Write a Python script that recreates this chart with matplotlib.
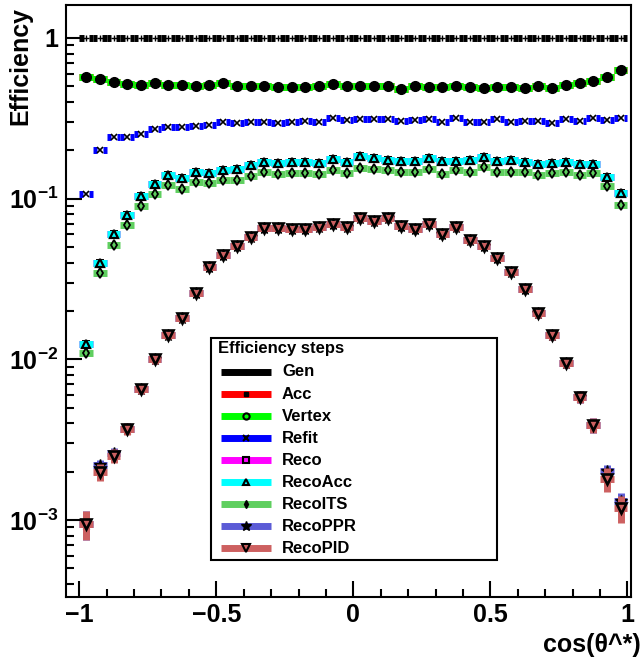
import numpy as np
import matplotlib
matplotlib.use('Agg')
import matplotlib.pyplot as plt
from matplotlib.lines import Line2D
from matplotlib.patches import Rectangle
from matplotlib.ticker import FixedLocator, FuncFormatter, LogLocator, MultipleLocator, NullFormatter

plt.rcParams['font.family'] = ['Liberation Sans', 'DejaVu Sans']
plt.rcParams['font.weight'] = 'bold'
plt.rcParams['mathtext.fontset'] = 'custom'
plt.rcParams['mathtext.rm'] = 'Liberation Sans:bold'
plt.rcParams['mathtext.it'] = 'Liberation Sans:bold'
plt.rcParams['mathtext.bf'] = 'Liberation Sans:bold'

# 40 bins in cos(theta*)
bin_lo = -1.0
bin_hi = 1.0
n_bins = 40

gen = [1.0] * 40
acc = [0.575, 0.554, 0.535, 0.516, 0.508, 0.525, 0.513, 0.511, 0.503, 0.508,
       0.523, 0.501, 0.505, 0.505, 0.496, 0.498, 0.496, 0.503, 0.516, 0.500,
       0.503, 0.501, 0.501, 0.484, 0.501, 0.496, 0.498, 0.501, 0.494, 0.491,
       0.498, 0.498, 0.491, 0.503, 0.491, 0.508, 0.525, 0.541, 0.570, 0.633]
vertex = [0.575, 0.554, 0.535, 0.516, 0.508, 0.525, 0.513, 0.511, 0.503, 0.508,
          0.523, 0.501, 0.505, 0.505, 0.496, 0.498, 0.496, 0.503, 0.516, 0.500,
          0.503, 0.501, 0.501, 0.484, 0.501, 0.496, 0.498, 0.501, 0.494, 0.491,
          0.498, 0.498, 0.491, 0.503, 0.491, 0.508, 0.525, 0.541, 0.570, 0.633]
refit = [0.107, 0.2015, 0.2417, 0.2417, 0.2533, 0.271, 0.279, 0.281, 0.2825, 0.288,
         0.299, 0.295, 0.299, 0.302, 0.296, 0.301, 0.305, 0.302, 0.319, 0.308,
         0.314, 0.313, 0.311, 0.305, 0.308, 0.314, 0.301, 0.317, 0.302, 0.301,
         0.315, 0.302, 0.304, 0.306, 0.294, 0.314, 0.306, 0.317, 0.310, 0.319]
reco = [0.0125, 0.0399, 0.0606, 0.0796, 0.1033, 0.124, 0.1395, 0.1345, 0.147, 0.145,
        0.1514, 0.1536, 0.163, 0.170, 0.1666, 0.170, 0.170, 0.1666, 0.177, 0.170,
        0.183, 0.178, 0.175, 0.1715, 0.172, 0.180, 0.1715, 0.1715, 0.1747, 0.1824,
        0.172, 0.1729, 0.170, 0.164, 0.1666, 0.168, 0.1648, 0.1648, 0.1356, 0.1085]
reco_acc = [0.0125, 0.0399, 0.0606, 0.0796, 0.1033, 0.124, 0.1395, 0.1345, 0.147, 0.145,
            0.1514, 0.1536, 0.163, 0.170, 0.1666, 0.170, 0.170, 0.1666, 0.177, 0.170,
            0.183, 0.178, 0.175, 0.1715, 0.172, 0.180, 0.1715, 0.1715, 0.1747, 0.1824,
            0.172, 0.1729, 0.170, 0.164, 0.1666, 0.168, 0.1648, 0.1648, 0.1356, 0.1085]
reco_its = [0.0109, 0.0345, 0.0516, 0.0687, 0.0896, 0.1074, 0.1222, 0.1148, 0.1275, 0.1257,
            0.1313, 0.1313, 0.1376, 0.147, 0.143, 0.144, 0.144, 0.1415, 0.150, 0.144,
            0.155, 0.153, 0.150, 0.146, 0.146, 0.153, 0.1415, 0.1514, 0.146, 0.1564,
            0.147, 0.147, 0.146, 0.1395, 0.144, 0.146, 0.1407, 0.144, 0.1205, 0.0908]
reco_ppr = [9.44e-4, 2.20e-3, 2.63e-3, 3.71e-3, 6.57e-3, 0.0100, 0.01416, 0.0180, 0.0260, 0.0375,
            0.0445, 0.0506, 0.0575, 0.0658, 0.0658, 0.0648, 0.0648, 0.0663, 0.0696, 0.0663,
            0.0754, 0.0722, 0.0754, 0.0679, 0.0648, 0.0696, 0.0606, 0.0663, 0.0551, 0.0506,
            0.0428, 0.0348, 0.0275, 0.0193, 0.0141, 0.00954, 0.00586, 0.00389, 2.02e-3, 1.32e-3]
reco_pid = [9.44e-4, 1.98e-3, 2.51e-3, 3.71e-3, 6.57e-3, 0.0100, 0.01416, 0.0180, 0.0260, 0.0375,
            0.0445, 0.0506, 0.0575, 0.0658, 0.0658, 0.0648, 0.0648, 0.0663, 0.0696, 0.0663,
            0.0754, 0.0722, 0.0754, 0.0679, 0.0648, 0.0696, 0.0606, 0.0663, 0.0551, 0.0506,
            0.0428, 0.0348, 0.0275, 0.0193, 0.0141, 0.00954, 0.00586, 0.00389, 1.80e-3, 1.19e-3]

# statistical errors, only the last two steps stick out of the bars
err_ppr = [1.9e-4, 1.6e-4, 1.9e-4, 3.0e-4, 4.5e-4, 6e-4, 8.5e-4, 9e-4, 1.2e-3, 1.7e-3,
           2.0e-3, 2.3e-3, 2.6e-3, 3.0e-3, 3.0e-3, 2.9e-3, 2.9e-3, 3.0e-3, 3.1e-3, 3.0e-3,
           3.4e-3, 3.2e-3, 3.4e-3, 3.1e-3, 2.9e-3, 3.1e-3, 2.7e-3, 3.0e-3, 2.5e-3, 2.3e-3,
           1.9e-3, 1.6e-3, 1.4e-3, 1.2e-3, 9e-4, 7e-4, 5.3e-4, 4.1e-4, 1.8e-4, 1.6e-4]
err_pid = [1.9e-4, 2.4e-4, 2.6e-4, 3.3e-4, 4.9e-4, 6e-4, 8.5e-4, 9e-4, 1.2e-3, 1.7e-3,
           2.0e-3, 2.3e-3, 2.6e-3, 3.0e-3, 3.0e-3, 2.9e-3, 2.9e-3, 3.0e-3, 3.1e-3, 3.0e-3,
           3.4e-3, 3.2e-3, 3.4e-3, 3.1e-3, 2.9e-3, 3.1e-3, 2.7e-3, 3.0e-3, 2.5e-3, 2.3e-3,
           1.9e-3, 1.6e-3, 1.4e-3, 1.2e-3, 9e-4, 7e-4, 5.3e-4, 4.1e-4, 3.1e-4, 2.3e-4]

names = ['Gen', 'Acc', 'Vertex', 'Refit', 'Reco', 'RecoAcc', 'RecoITS', 'RecoPPR', 'RecoPID']
values = [gen, acc, vertex, refit, reco, reco_acc, reco_its, reco_ppr, reco_pid]
errors = [None, None, None, None, None, None, None, err_ppr, err_pid]
colors = ['black', '#ff0000', '#00ff00', '#0000ff', '#ff00ff', '#00ffff',
          '#5fcf5f', '#5b5bd6', '#cd6060']

# marker, size, filled, edge width, gap around the marker (pixels)
plot_markers = [('+', 5, True, 1.0, 2.5), ('s', 4, True, 1.0, 0),
                ('o', 7, True, 1.0, 0), ('x', 4.5, True, 1.2, 3),
                ('s', 4.5, False, 1.4, 0), ('^', 6, False, 1.6, 0),
                ('d', 5.5, False, 1.3, 0), ('*', 8.5, True, 1.0, 0),
                ('v', 7, False, 1.9, 0)]
legend_markers = [('+', 5, True, 1.0), ('s', 3.5, True, 1.0), ('o', 4.5, False, 1.5),
                  ('x', 4, True, 1.5), ('s', 5, False, 1.5), ('^', 5, False, 1.5),
                  ('d', 4, True, 1.0), ('*', 7, True, 1.0), ('v', 5.5, False, 1.5)]

W, H = 642, 664
fig = plt.figure(figsize=(W / 100, H / 100), dpi=100)
ax_l, ax_r, ax_t, ax_b = 65.6, 630.5, 5, 597
ax = fig.add_axes([ax_l / W, 1 - ax_b / H, (ax_r - ax_l) / W, (ax_b - ax_t) / H])

x_min, x_max = -1.0498, 1.011
y_min, y_max = 3.32e-4, 1.604
ax.set_xlim(x_min, x_max)
ax.set_yscale('log')
ax.set_ylim(y_min, y_max)

edges = np.linspace(bin_lo, bin_hi, n_bins + 1)
centers = 0.5 * (edges[:-1] + edges[1:])
px_x = (ax_r - ax_l) / (x_max - x_min)

bar_lw = 5.0
for k, (vals, err, col, mk) in enumerate(zip(values, errors, colors, plot_markers)):
    vals = np.asarray(vals)
    marker, size, filled, mew, gap = mk
    g = gap / px_x
    z = 2 + k
    if g > 0:
        ax.hlines(vals, edges[:-1], centers - g, colors=col, lw=bar_lw, zorder=z)
        ax.hlines(vals, centers + g, edges[1:], colors=col, lw=bar_lw, zorder=z)
    else:
        ax.hlines(vals, edges[:-1], edges[1:], colors=col, lw=bar_lw, zorder=z)
    if err is not None:
        err = np.asarray(err)
        ax.vlines(centers, vals - err, vals + err, colors=col, lw=bar_lw, zorder=z)
    ax.plot(centers, vals, ls='none', marker=marker, ms=size, mew=mew,
            mec='black', mfc='black' if filled else 'none', zorder=z + 0.5)

for s in ax.spines.values():
    s.set_linewidth(1.5)


def x_label(v, pos):
    if abs(v) < 1e-9:
        return '0'
    return ('%g' % v).replace('-', '\u2212')


ax.xaxis.set_major_locator(MultipleLocator(0.5))
ax.xaxis.set_minor_locator(MultipleLocator(0.1))
ax.xaxis.set_major_formatter(FuncFormatter(x_label))
ax.yaxis.set_major_locator(FixedLocator([1e-3, 1e-2, 1e-1, 1.0]))
ax.yaxis.set_minor_locator(LogLocator(base=10, subs=np.arange(2, 10)))
ax.yaxis.set_minor_formatter(NullFormatter())
ax.yaxis.set_major_formatter(FuncFormatter(
    lambda v, p: '1' if abs(v - 1) < 1e-9 else r'$10^{%d}$' % round(np.log10(v))))
ax.tick_params(which='both', direction='in', top=False, right=False, width=1.5,
               labelsize=18)
ax.tick_params(which='major', length=11.5)
ax.tick_params(which='minor', length=5.5)
ax.tick_params(axis='x', pad=4)
ax.tick_params(axis='y', pad=5)

fig.text(20 / W, 1 - 7 / H, 'Efficiency', rotation=90, ha='center', va='top',
         fontsize=18, fontweight='bold')
fig.text(641 / W, 1 - 645 / H, 'cos(θ^*)', ha='right', va='center',
         fontsize=18, fontweight='bold')

# legend box
lg_l, lg_r, lg_t, lg_b = 211, 497, 338, 560
fig.add_artist(Rectangle((lg_l / W, 1 - lg_b / H), (lg_r - lg_l) / W, (lg_b - lg_t) / H,
                         transform=fig.transFigure, facecolor='white',
                         edgecolor='black', lw=1.5, zorder=20))
fig.text(218 / W, 1 - 349 / H, 'Efficiency steps', ha='left', va='center',
         fontsize=12, fontweight='bold', zorder=21)
for i, (name, col, mk) in enumerate(zip(names, colors, legend_markers)):
    yy = 1 - (372 + 22.05 * i) / H
    marker, size, filled, mew = mk
    fig.add_artist(Line2D([221 / W, 271 / W], [yy, yy], transform=fig.transFigure,
                          color=col, lw=bar_lw, solid_capstyle='butt', zorder=21))
    fig.add_artist(Line2D([246 / W], [yy], transform=fig.transFigure, ls='none',
                          marker=marker, ms=size, mew=mew, mec='black',
                          mfc='black' if filled else 'none', zorder=22))
    fig.text(282 / W, yy, name, ha='left', va='center', fontsize=12,
             fontweight='bold', zorder=22)

fig.savefig('out.png', dpi=100)
